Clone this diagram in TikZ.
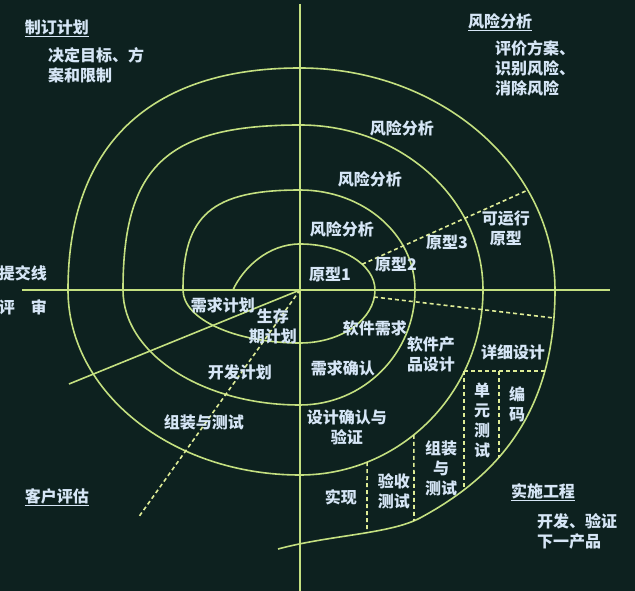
\documentclass[tikz,border=0pt]{standalone}
\usepackage{fontspec}
\setmainfont{Noto Sans CJK SC}
\usepackage{tikz}
\definecolor{nen}{RGB}{13,33,31}
\definecolor{xanh}{RGB}{196,224,128}
\definecolor{vang}{RGB}{222,236,150}
\definecolor{chuxanh}{RGB}{214,230,246}

\begin{document}
\begin{tikzpicture}[x=1pt,y=1pt,
    duong/.style={xanh,line width=1.6pt},
    netdut/.style={vang,line width=1.6pt,dash pattern=on 4pt off 3pt},
    chu/.style={chuxanh,font=\fontsize{16}{20}\selectfont\bfseries,align=center,inner sep=1pt}]
    \useasboundingbox[fill=nen] (-300,-301) rectangle (335,290);
    %Vẽ hệ trục
    \draw[duong] (-278,0)--(310,0);
    \draw[duong] (0,286)--(0,-301);
    %Vẽ đường xoắn ốc
    \draw[duong] (-67,0) .. controls (-57,22) and (-32,46) .. (0,46)
        arc[start angle=90,end angle=0,x radius=75,y radius=46]
        arc[start angle=0,end angle=-90,x radius=75,y radius=53]
        arc[start angle=-90,end angle=-180,x radius=117,y radius=53]
        .. controls (-117,75) and (-88,100) .. (0,100)
        arc[start angle=90,end angle=0,x radius=115,y radius=100]
        arc[start angle=0,end angle=-90,x radius=115,y radius=115]
        arc[start angle=-90,end angle=-180,x radius=177,y radius=115]
        .. controls (-177,124) and (-133,165) .. (0,165)
        arc[start angle=90,end angle=0,x radius=183,y radius=165]
        arc[start angle=0,end angle=-90,x radius=183,y radius=185]
        arc[start angle=-90,end angle=-180,x radius=232,y radius=185]
        .. controls (-232,144) and (-151,222) .. (0,222)
        arc[start angle=90,end angle=0,x radius=255,y radius=222]
        .. controls (255,-120) and (200,-185) .. (120,-228)
        .. controls (90,-244) and (30,-245) .. (-22,-259);
    %Các đường nét đứt
    \draw[netdut] (34:75 and 46)--(228,100);
    \draw[netdut] (74,-7)--(254,-28);
    \draw[netdut] (164,-81)--(245,-81);
    \draw[netdut] (164,-81)--(164,-200);
    \draw[netdut] (199,-81)--(199,-168);
    \draw[netdut] (-51.5:183 and 185)--(114,-231);
    \draw[netdut] (-68.5:183 and 185)--(67,-243);
    \draw[netdut] (0,0)--(-162,-228);
    \draw[duong] (0,0)--(-231,-94);
    %Ghi chú các góc phần tư
    \draw (-243,262) node[chu] (zhiding) {\underline{制订计划}};
    \draw (-253,225) node[chu,anchor=west,align=left] (mubiao) {决定目标、方\\案和限制};
    \draw (200,268) node[chu] (fengxian) {\underline{风险分析}};
    \draw (194,222) node[chu,anchor=west,align=left] (pingjia) {评价方案、\\识别风险、\\消除风险};
    \draw (-277,17) node[chu] (tijiao) {提交线};
    \draw (-277,-17) node[chu] (pingshen) {评\hspace{1em}审};
    \draw (-243,-207) node[chu] (khpg) {\underline{客户评估}};
    \draw (243,-202) node[chu] (ssgc) {\underline{实施工程}};
    \draw (236,-241) node[chu,anchor=west,align=left] (kaifa) {开发、验证\\下一产品};
    %Ghi chú trên đường xoắn ốc
    \draw (102,162) node[chu] (fx3) {风险分析};
    \draw (70,111) node[chu] (fx2) {风险分析};
    \draw (42,61) node[chu] (fx1) {风险分析};
    \draw (30,15) node[chu] (yx1) {原型1};
    \draw (96,25) node[chu] (yx2) {原型2};
    \draw (147,47) node[chu] (yx3) {原型3};
    \draw (206,62) node[chu] (keyun) {可运行\\原型};
    \draw (-77,-15) node[chu] (xqjh) {需求计划};
    \draw (-27,-36) node[chu] (shengcun) {生存\\期计划};
    \draw (-60,-82) node[chu] (kfjh) {开发计划};
    \draw (-96,-132) node[chu] (zzcs) {组装与测试};
    \draw (75,-38) node[chu] (rjxq) {软件需求};
    \draw (43,-78) node[chu] (xqqr) {需求确认};
    \draw (131,-64) node[chu] (rjcp) {软件产\\品设计};
    \draw (213,-62) node[chu] (xxsj) {详细设计};
    \draw (47,-137) node[chu] (sjqr) {设计确认与\\验证};
    \draw (182,-130) node[chu] (dycs) {单\\元\\测\\试};
    \draw (217,-114) node[chu] (bianma) {编\\码};
    \draw (141,-178) node[chu] (zzcs2) {组装\\与\\测试};
    \draw (94,-201) node[chu] (yscs) {验收\\测试};
    \draw (41,-207) node[chu] (shixian) {实现};
\end{tikzpicture}
\end{document}
